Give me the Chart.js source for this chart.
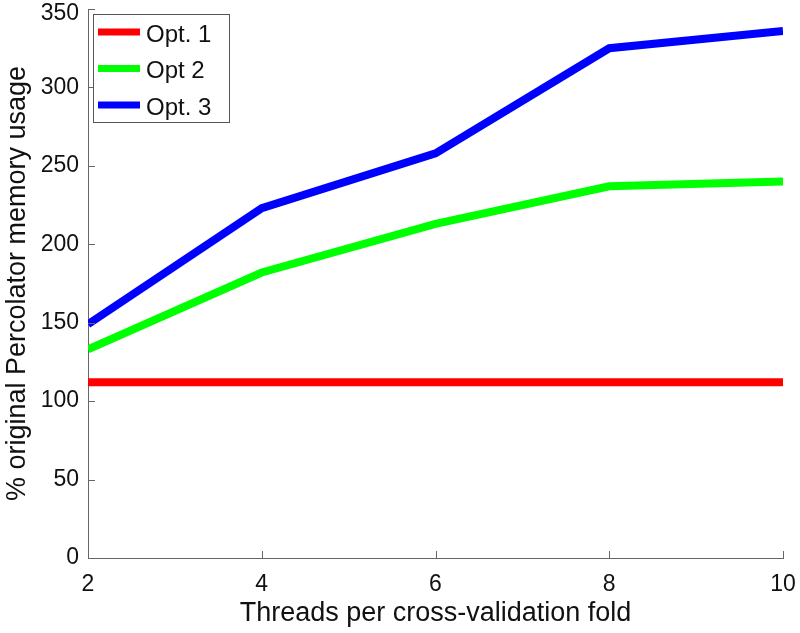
<!DOCTYPE html>
<html>
<head>
<meta charset="utf-8">
<script src="https://cdn.jsdelivr.net/npm/chart.js@4/dist/chart.umd.min.js"></script>
<style>
  html, body { margin: 0; padding: 0; background: #fff; }
  canvas { display: block; }
</style>
</head>
<body>
<canvas id="chart" width="800" height="633"></canvas>
<script>
// threads per cross-validation fold
const threads = [2, 4, 6, 8, 10];
// % of original Percolator memory usage
const opt1 = [112, 112, 112, 112, 112];
const opt2 = [133, 182, 213, 237, 240];
const opt3 = [149, 223, 258, 325, 336];

const seriesNames = ["Opt. 1", "Opt 2", "Opt. 3"];
const seriesColors = ["#ff0000", "#00ff00", "#0000ff"];

const xTicks = [2, 4, 6, 8, 10];
const yTicks = [0, 50, 100, 150, 200, 250, 300, 350];
const yMax = yTicks[yTicks.length - 1];

const FONT = "'Liberation Sans', Arial, sans-serif";

const toPoints = (ys) => threads.map((x, i) => ({ x: x, y: ys[i] }));

// MATLAB-style inward tick marks (+ top y label nudged inside the canvas)
const innerTicks = {
  id: "innerTicks",
  afterDatasetsDraw(chart) {
    const { ctx, chartArea, scales } = chart;
    ctx.save();
    ctx.strokeStyle = "#666";
    ctx.lineWidth = 1;
    ctx.beginPath();
    xTicks.forEach(v => {
      const px = Math.round(scales.x.getPixelForValue(v)) + 0.5;
      ctx.moveTo(px, chartArea.bottom);
      ctx.lineTo(px, chartArea.bottom - 7);
    });
    yTicks.forEach(v => {
      const py = Math.round(scales.y.getPixelForValue(v)) + 0.5;
      ctx.moveTo(chartArea.left, py);
      ctx.lineTo(chartArea.left + 7, py);
    });
    ctx.stroke();

    ctx.fillStyle = "#111";
    ctx.font = "23px " + FONT;
    ctx.textAlign = "right";
    ctx.textBaseline = "middle";
    const topY = Math.max(scales.y.getPixelForValue(yMax), 14);
    ctx.fillText(String(yMax), chartArea.left - 9, topY);
    ctx.restore();
  }
};

// boxed legend in the upper-left corner of the axes
const boxLegend = {
  id: "boxLegend",
  afterDraw(chart) {
    const { ctx, chartArea } = chart;
    const x0 = chartArea.left + 5, y0 = chartArea.top + 5;
    const w = 136, h = 108;
    ctx.save();
    ctx.fillStyle = "#fff";
    ctx.fillRect(x0, y0, w, h);
    ctx.strokeStyle = "#555";
    ctx.lineWidth = 1;
    ctx.strokeRect(x0 + 0.5, y0 + 0.5, w, h);
    ctx.font = "24px " + FONT;
    ctx.textBaseline = "middle";
    chart.data.datasets.forEach((ds, i) => {
      const ly = y0 + 18 + i * 36.5;
      ctx.strokeStyle = ds.borderColor;
      ctx.lineWidth = 7;
      ctx.beginPath();
      ctx.moveTo(x0 + 5, ly);
      ctx.lineTo(x0 + 47, ly);
      ctx.stroke();
      ctx.fillStyle = "#111";
      ctx.fillText(ds.label, x0 + 53, ly + 3);
    });
    ctx.restore();
  }
};

new Chart(document.getElementById("chart"), {
  type: "line",
  data: {
    datasets: [opt1, opt2, opt3].map((ys, i) => ({
      label: seriesNames[i],
      data: toPoints(ys),
      borderColor: seriesColors[i],
      backgroundColor: seriesColors[i],
      borderWidth: 8,
      pointRadius: 0,
      tension: 0,
      borderJoinStyle: "miter"
    }))
  },
  options: {
    responsive: false,
    animation: false,
    devicePixelRatio: 1,
    layout: { padding: { top: 9, right: 17, left: 0, bottom: 0 } },
    plugins: { legend: { display: false }, tooltip: { enabled: false } },
    scales: {
      x: {
        type: "linear",
        min: 2,
        max: 10,
        afterBuildTicks: (s) => { s.ticks = xTicks.map(v => ({ value: v })); },
        afterFit: (s) => { s.height = 75; s.paddingLeft = 0; s.paddingRight = 0; },
        grid: { display: true, drawOnChartArea: false, drawTicks: false },
        border: { color: "#666", width: 1 },
        ticks: { color: "#111", font: { family: FONT, size: 23 }, padding: 13, maxRotation: 0 },
        title: {
          display: true,
          text: "Threads per cross-validation fold",
          color: "#111",
          font: { family: FONT, size: 27 },
          padding: { top: 0, bottom: 3 }
        }
      },
      y: {
        min: 0,
        max: yMax,
        afterBuildTicks: (s) => { s.ticks = yTicks.map(v => ({ value: v })); },
        afterFit: (s) => { s.width = 88; s.paddingTop = 0; s.paddingBottom = 0; },
        grid: { display: true, drawOnChartArea: false, drawTicks: false },
        border: { color: "#666", width: 1 },
        ticks: {
          color: "#111",
          font: { family: FONT, size: 23 },
          padding: 9,
          callback: (v) => (v === yMax ? "" : String(v))
        },
        title: {
          display: true,
          text: "% original Percolator memory usage",
          color: "#111",
          font: { family: FONT, size: 27 },
          padding: { top: 1, bottom: 0 }
        }
      }
    }
  },
  plugins: [innerTicks, boxLegend]
});
</script>
</body>
</html>
